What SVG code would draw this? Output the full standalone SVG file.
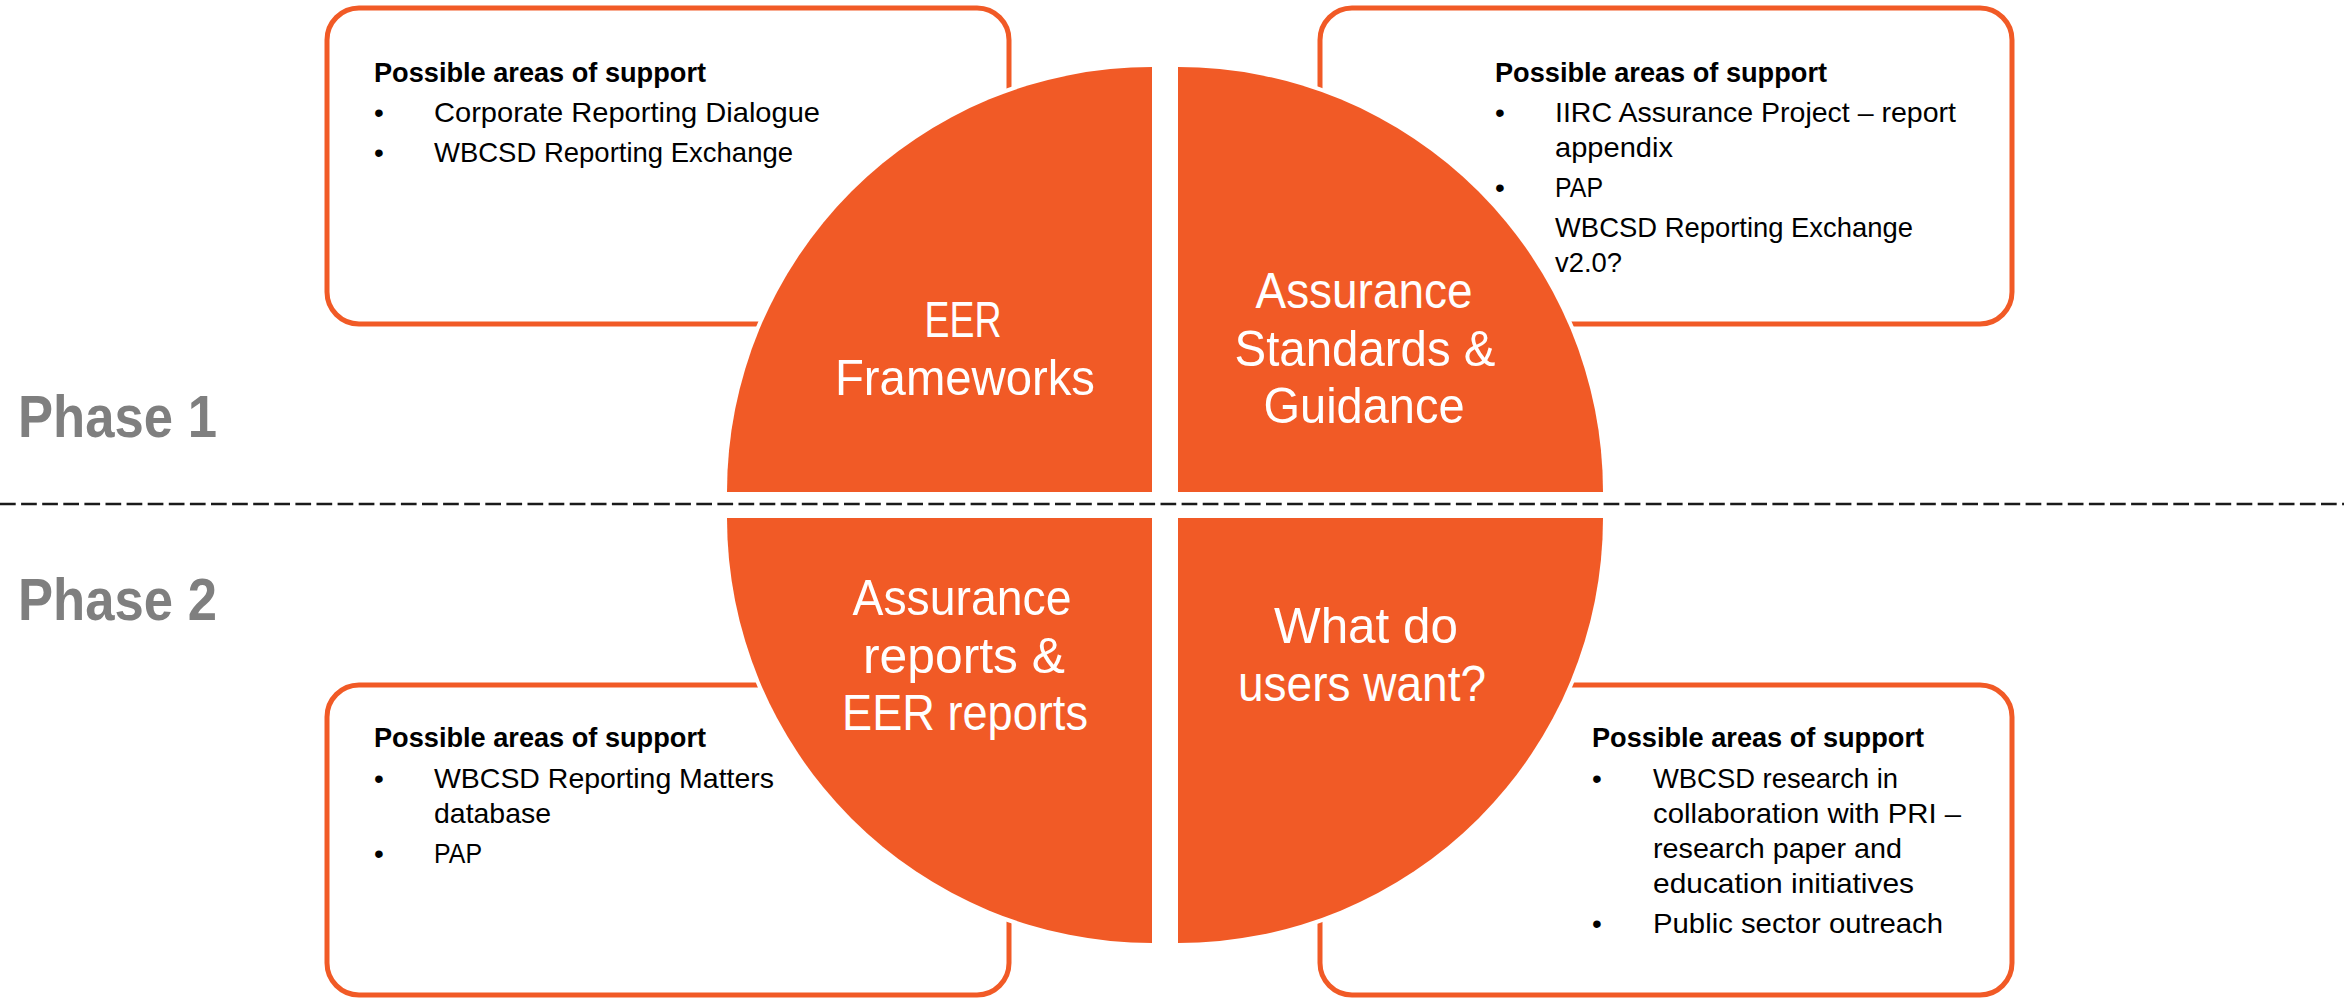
<svg xmlns="http://www.w3.org/2000/svg" width="2344" height="1003" viewBox="0 0 2344 1003">
<style>
.box{fill:#fff;stroke:#F15A26;stroke-width:5}
.q{fill:#F15A26}
.halo{fill:#fff;stroke:#fff;stroke-width:8;stroke-linejoin:round}
.t{font-family:"Liberation Sans",Arial,sans-serif;font-size:28px;fill:#000}
.h{font-weight:bold}
.lbl{font-family:"Liberation Sans",Arial,sans-serif;font-size:50px;fill:#fff}
.ph{font-family:"Liberation Sans",Arial,sans-serif;font-size:60px;font-weight:bold;fill:#7F7F7F}
</style>
<rect width="2344" height="1003" fill="#fff"/>
<g id="box-tl">
<rect class="box" x="327" y="8" width="682" height="316" rx="32"/>
<text class="t h" x="374" y="82" textLength="332" lengthAdjust="spacingAndGlyphs">Possible areas of support</text>
<text class="t" x="374" y="122">•</text>
<text class="t" x="434" y="122" textLength="386" lengthAdjust="spacingAndGlyphs">Corporate Reporting Dialogue</text>
<text class="t" x="374" y="162">•</text>
<text class="t" x="434" y="162" textLength="359" lengthAdjust="spacingAndGlyphs">WBCSD Reporting Exchange</text>
</g>
<g id="box-tr">
<rect class="box" x="1320" y="8" width="692" height="316" rx="32"/>
<text class="t h" x="1495" y="82" textLength="332" lengthAdjust="spacingAndGlyphs">Possible areas of support</text>
<text class="t" x="1495" y="122">•</text>
<text class="t" x="1555" y="122" textLength="401" lengthAdjust="spacingAndGlyphs">IIRC Assurance Project – report</text>
<text class="t" x="1555" y="157" textLength="118" lengthAdjust="spacingAndGlyphs">appendix</text>
<text class="t" x="1495" y="197">•</text>
<text class="t" x="1555" y="197" textLength="48" lengthAdjust="spacingAndGlyphs">PAP</text>
<text class="t" x="1555" y="237" textLength="358" lengthAdjust="spacingAndGlyphs">WBCSD Reporting Exchange</text>
<text class="t" x="1555" y="272" textLength="67" lengthAdjust="spacingAndGlyphs">v2.0?</text>
</g>
<g id="box-bl">
<rect class="box" x="327" y="685" width="682" height="310" rx="32"/>
<text class="t h" x="374" y="747" textLength="332" lengthAdjust="spacingAndGlyphs">Possible areas of support</text>
<text class="t" x="374" y="788">•</text>
<text class="t" x="434" y="788" textLength="340" lengthAdjust="spacingAndGlyphs">WBCSD Reporting Matters</text>
<text class="t" x="434" y="823" textLength="117" lengthAdjust="spacingAndGlyphs">database</text>
<text class="t" x="374" y="863">•</text>
<text class="t" x="434" y="863" textLength="48" lengthAdjust="spacingAndGlyphs">PAP</text>
</g>
<g id="box-br">
<rect class="box" x="1320" y="685" width="692" height="310" rx="32"/>
<text class="t h" x="1592" y="747" textLength="332" lengthAdjust="spacingAndGlyphs">Possible areas of support</text>
<text class="t" x="1592" y="788">•</text>
<text class="t" x="1653" y="788" textLength="245" lengthAdjust="spacingAndGlyphs">WBCSD research in</text>
<text class="t" x="1653" y="823" textLength="308" lengthAdjust="spacingAndGlyphs">collaboration with PRI –</text>
<text class="t" x="1653" y="858" textLength="249" lengthAdjust="spacingAndGlyphs">research paper and</text>
<text class="t" x="1653" y="893" textLength="261" lengthAdjust="spacingAndGlyphs">education initiatives</text>
<text class="t" x="1592" y="933">•</text>
<text class="t" x="1653" y="933" textLength="290" lengthAdjust="spacingAndGlyphs">Public sector outreach</text>
</g>
<g id="connectors">
<line x1="0" y1="504" x2="2344" y2="504" stroke="#1a1a1a" stroke-width="2.7" stroke-dasharray="15.7 5.4"/>
</g>
<g id="q-tl">
<path class="halo" d="M1152,492 L727,492 A425,425 0 0 1 1152,67 Z"/>
<path class="q" d="M1152,492 L727,492 A425,425 0 0 1 1152,67 Z"/>
<text class="lbl" x="963" y="337" text-anchor="middle" textLength="77" lengthAdjust="spacingAndGlyphs">EER</text>
<text class="lbl" x="965" y="395" text-anchor="middle" textLength="260" lengthAdjust="spacingAndGlyphs">Frameworks</text>
</g>
<g id="q-tr">
<path class="halo" d="M1178,492 L1178,67 A425,425 0 0 1 1603,492 Z"/>
<path class="q" d="M1178,492 L1178,67 A425,425 0 0 1 1603,492 Z"/>
<text class="lbl" x="1364" y="308" text-anchor="middle" textLength="217" lengthAdjust="spacingAndGlyphs">Assurance</text>
<text class="lbl" x="1365" y="366" text-anchor="middle" textLength="261" lengthAdjust="spacingAndGlyphs">Standards &amp;</text>
<text class="lbl" x="1364" y="423" text-anchor="middle" textLength="201" lengthAdjust="spacingAndGlyphs">Guidance</text>
</g>
<g id="q-bl">
<path class="halo" d="M1152,518 L1152,943 A425,425 0 0 1 727,518 Z"/>
<path class="q" d="M1152,518 L1152,943 A425,425 0 0 1 727,518 Z"/>
<text class="lbl" x="962" y="615" text-anchor="middle" textLength="219" lengthAdjust="spacingAndGlyphs">Assurance</text>
<text class="lbl" x="964" y="673" text-anchor="middle" textLength="202" lengthAdjust="spacingAndGlyphs">reports &amp;</text>
<text class="lbl" x="965" y="730" text-anchor="middle" textLength="246" lengthAdjust="spacingAndGlyphs">EER reports</text>
</g>
<g id="q-br">
<path class="halo" d="M1178,518 L1603,518 A425,425 0 0 1 1178,943 Z"/>
<path class="q" d="M1178,518 L1603,518 A425,425 0 0 1 1178,943 Z"/>
<text class="lbl" x="1366" y="643" text-anchor="middle" textLength="184" lengthAdjust="spacingAndGlyphs">What do</text>
<text class="lbl" x="1362" y="701" text-anchor="middle" textLength="248" lengthAdjust="spacingAndGlyphs">users want?</text>
</g>
<g id="phase-1"><text class="ph" x="18" y="437" textLength="199" lengthAdjust="spacingAndGlyphs">Phase 1</text></g>
<g id="phase-2"><text class="ph" x="18" y="620" textLength="199" lengthAdjust="spacingAndGlyphs">Phase 2</text></g>
</svg>
